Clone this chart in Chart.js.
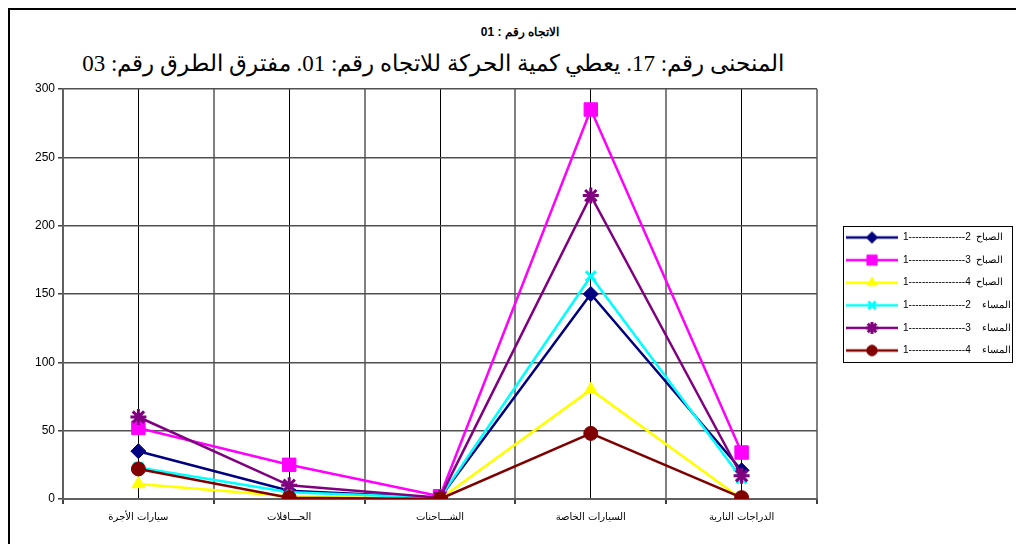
<!DOCTYPE html>
<html>
<head>
<meta charset="utf-8">
<script src="https://cdn.jsdelivr.net/npm/chart.js@4/dist/chart.umd.min.js"></script>
<style>
  html, body { margin: 0; padding: 0; background: #fff; overflow: hidden; }
  #wrap { position: relative; width: 1016px; height: 544px; }
  #frame { position: absolute; left: 8px; top: 8px; width: 1100px; height: 600px;
           border-left: 2px solid #000; border-top: 2px solid #000; }
  #title { position: absolute; left: 320px; width: 400px; top: 25px; text-align: center;
           font: bold 12px "Liberation Sans", Arial, sans-serif; color: #000; }
  #subtitle { position: absolute; left: 33px; width: 800px; top: 51px; text-align: center; line-height: 26px;
              font-size: 23px; font-family: "Liberation Serif", "Times New Roman", serif; color: #000; white-space: nowrap; }
  canvas { position: absolute; left: 0; top: 0; }
</style>
</head>
<body>
<div id="wrap">
  <div id="frame"></div>
  <div id="title" dir="rtl">الاتجاه رقم : 01</div>
  <div id="subtitle" dir="rtl">المنحنى رقم: 17. يعطي كمية الحركة للاتجاه رقم: 01. مفترق الطرق رقم: 03</div>
  <canvas id="chart" width="1016" height="544"></canvas>
</div>
<script>
// categories (vehicle types) and the six count series
const CATEGORIES = ["سيارات الأجرة", "الحـــافلات", "الشـــاحنات", "السيارات الخاصة", "الدراجات النارية"];
const SERIES_NAMES = [
  "1-----------------2  الصباح",
  "1-----------------3  الصباح",
  "1-----------------4  الصباح",
  "1-----------------2    المساء",
  "1-----------------3    المساء",
  "1-----------------4    المساء",
];
const MORNING_2 = [35, 6, 1, 150, 21];
const MORNING_3 = [52, 25, 2, 285, 34];
const MORNING_4 = [11, 2, 0, 80, 0];
const EVENING_2 = [23, 5, 1, 163, 15];
const EVENING_3 = [60, 10, 1, 222, 17];
const EVENING_4 = [22, 1, 0, 48, 1];
const Y_TICKS = [0, 50, 100, 150, 200, 250, 300];

(function () {
  const STYLES = [
    { color: "#000080", point: "rectRot", radius: 7.5, bw: 1 },
    { color: "#ff00ff", point: "rect", radius: 9.5, bw: 1 },
    { color: "#ffff00", point: "triangle", radius: 7.5, bw: 1 },
    { color: "#00ffff", point: "crossRot", radius: 7, bw: 3 },
    { color: "#800080", point: "star", radius: 8, bw: 3 },
    { color: "#800000", point: "circle", radius: 7, bw: 1 },
  ];
  const VALUES = [MORNING_2, MORNING_3, MORNING_4, EVENING_2, EVENING_3, EVENING_4];

  // legend glyph: short line with the marker in the middle
  function legendIcon(st) {
    const c = document.createElement("canvas");
    c.width = 52; c.height = 16;
    const ctx = c.getContext("2d");
    ctx.strokeStyle = st.color;
    ctx.fillStyle = st.color;
    ctx.lineWidth = 2.5;
    ctx.beginPath();
    ctx.moveTo(0, 8); ctx.lineTo(52, 8);
    ctx.stroke();
    if (Chart.helpers && Chart.helpers.drawPoint) {
      ctx.lineWidth = st.bw;
      Chart.helpers.drawPoint(ctx, { pointStyle: st.point, radius: st.radius * 0.75, rotation: 0, borderWidth: st.bw }, 26, 8);
    }
    return c;
  }
  const ICONS = STYLES.map(legendIcon);

  const datasets = VALUES.map((vals, i) => {
    const st = STYLES[i];
    return {
      label: SERIES_NAMES[i],
      data: vals,
      borderColor: st.color,
      backgroundColor: st.color,
      borderWidth: 2.5,
      pointStyle: st.point,
      pointRadius: st.radius,
      pointBorderWidth: st.bw,
      pointBorderColor: st.color,
      pointBackgroundColor: st.color,
      tension: 0,
      order: VALUES.length - i,
    };
  });

  const legendPlacer = {
    id: "legendPlacer",
    afterLayout(chart) {
      const lg = chart.legend;
      if (!lg) return;
      const pad = lg.options.labels.padding;
      const w = lg.width;
      lg.left = 846 - pad;
      lg.right = lg.left + w;
      lg.top = chart.chartArea.top;
      lg.bottom = chart.chartArea.bottom;
      lg.height = lg.bottom - lg.top;
    },
    afterDraw(chart) {
      const hb = chart.legend && chart.legend.legendHitBoxes;
      if (!hb || !hb.length) return;
      const left = Math.min(...hb.map((h) => h.left)) - 3;
      const right = 1012;
      const top = Math.min(...hb.map((h) => h.top)) - 7;
      const bottom = Math.max(...hb.map((h) => h.top + h.height)) + 6;
      const ctx = chart.ctx;
      ctx.save();
      ctx.strokeStyle = "#000";
      ctx.lineWidth = 1;
      ctx.strokeRect(Math.round(left) + 0.5, Math.round(top) + 0.5, right - Math.round(left), Math.round(bottom - top));
      ctx.restore();
    },
  };

  new Chart(document.getElementById("chart"), {
    type: "line",
    data: { labels: CATEGORIES, datasets: datasets },
    plugins: [legendPlacer],
    options: {
      responsive: false,
      animation: false,
      layout: { padding: { left: 8, top: 89, right: 199, bottom: 0 } },
      plugins: {
        title: { display: false },
        tooltip: { enabled: false },
        legend: {
          position: "chartArea",
          labels: {
            usePointStyle: true,
            pointStyleWidth: 52,
            padding: 12.6,
            color: "#000",
            font: { family: "'Liberation Sans', Arial, sans-serif", size: 10 },
            sort: (a, b) => a.datasetIndex - b.datasetIndex,
            generateLabels(chart) {
              const items = Chart.defaults.plugins.legend.labels.generateLabels(chart);
              items.forEach((it) => { it.pointStyle = ICONS[it.datasetIndex]; });
              return items;
            },
          },
        },
      },
      scales: {
        x: {
          type: "category",
          offset: true,
          grid: { offset: true, color: "#808080", lineWidth: 2, tickLength: 5, tickColor: "#404040" },
          border: { color: "#606060", width: 2 },
          ticks: {
            color: "#000",
            padding: 7,
            maxRotation: 0,
            font: { family: "'DejaVu Sans', Arial, sans-serif", size: 10 },
          },
          afterFit: (s) => { s.height = 45; },
        },
        x2: {
          type: "category",
          position: "bottom",
          offset: true,
          grid: { offset: false, color: "#000", lineWidth: 1, drawTicks: false },
          border: { display: false },
          ticks: { display: false },
          afterFit: (s) => { s.height = 0; },
        },
        y: {
          min: 0,
          max: 300,
          afterBuildTicks: (s) => { s.ticks = Y_TICKS.map((v) => ({ value: v })); },
          grid: { color: "#505050", lineWidth: 1.5, tickLength: 5, tickColor: "#404040" },
          border: { color: "#606060", width: 2 },
          ticks: {
            color: "#000",
            padding: 3,
            font: { family: "'Liberation Sans', Arial, sans-serif", size: 12 },
          },
          afterFit: (s) => { s.width = 55; },
        },
      },
    },
  });
})();
</script>
</body>
</html>
